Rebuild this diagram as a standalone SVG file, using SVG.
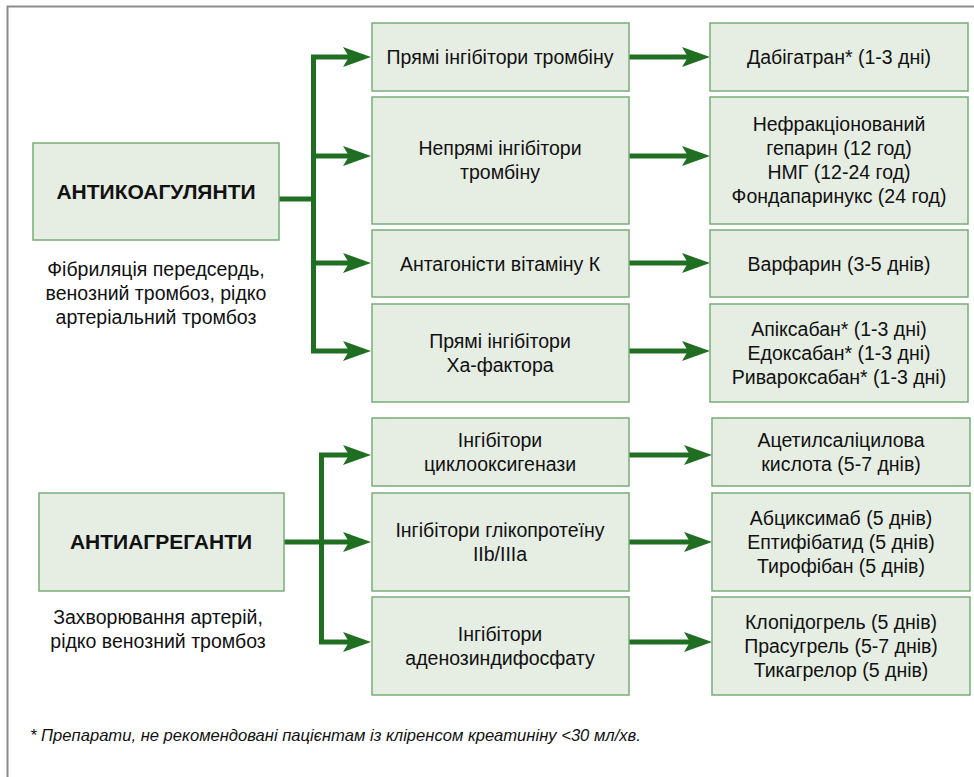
<svg xmlns="http://www.w3.org/2000/svg" width="974" height="777" viewBox="0 0 974 777">
  <defs>
    <style>
      .frame { fill: none; stroke: #8c8c8c; stroke-width: 2; }
      .box rect { fill: #e6ede3; stroke: #78ad78; stroke-width: 1.5; }
      .box text, .note { font-family: "Liberation Sans", "DejaVu Sans", sans-serif; font-size: 19.5px; fill: #111; text-anchor: middle; }
      .box text.head { font-weight: bold; font-size: 21px; }
      .note { font-size: 19.5px; }
      .foot { font-family: "Liberation Sans", "DejaVu Sans", sans-serif; font-size: 16.6px; font-style: italic; fill: #111; }
      .conn path { fill: none; stroke: #1f6e22; stroke-width: 5; }
      .conn path.arrow { marker-end: url(#head); }
    </style>
    <marker id="head" markerUnits="userSpaceOnUse" markerWidth="28" markerHeight="20" refX="6" refY="10" orient="auto">
      <path d="M0,0 L28,10 L0,20 L6,10 Z" fill="#1f6e22"/>
    </marker>
  </defs>

  <rect width="974" height="777" fill="#ffffff"/>
  <rect class="frame" x="7.5" y="6.5" width="1000" height="800"/>

  <!-- connectors -->
  <g class="conn" id="connectors">
    <!-- anticoagulants fan-out -->
    <path d="M279,199 H313.5"/>
    <path d="M313.5,57 V351"/>
    <path class="arrow" d="M311,57 H349"/>
    <path class="arrow" d="M313.5,156 H349"/>
    <path class="arrow" d="M313.5,263 H349"/>
    <path class="arrow" d="M311,351 H349"/>
    <!-- anticoagulant groups to drugs -->
    <path class="arrow" d="M629,57 H688"/>
    <path class="arrow" d="M629,156 H688"/>
    <path class="arrow" d="M629,263 H688"/>
    <path class="arrow" d="M629,351 H688"/>
    <!-- antiplatelets fan-out -->
    <path d="M284,542 H321.5"/>
    <path d="M321.5,455 V642"/>
    <path class="arrow" d="M319,455 H349"/>
    <path class="arrow" d="M321.5,542 H349"/>
    <path class="arrow" d="M319,642 H349"/>
    <!-- antiplatelet groups to drugs -->
    <path class="arrow" d="M629,455 H690"/>
    <path class="arrow" d="M629,542 H690"/>
    <path class="arrow" d="M629,642 H690"/>
  </g>

  <!-- main classes -->
  <g class="box" id="anticoagulants">
    <rect x="33" y="143" width="246" height="97"/>
    <text class="head" x="156" y="199">АНТИКОАГУЛЯНТИ</text>
  </g>
  <text class="note" x="156" y="276">Фібриляція передсердь,</text>
  <text class="note" x="156" y="300">венозний тромбоз, рідко</text>
  <text class="note" x="156" y="324">артеріальний тромбоз</text>

  <g class="box" id="antiplatelets">
    <rect x="39" y="493" width="245" height="98"/>
    <text class="head" x="161" y="549">АНТИАГРЕГАНТИ</text>
  </g>
  <text class="note" x="158" y="624">Захворювання артерій,</text>
  <text class="note" x="158" y="648">рідко венозний тромбоз</text>

  <!-- anticoagulant groups -->
  <g class="box" id="direct-thrombin">
    <rect x="372" y="23" width="257" height="68"/>
    <text x="500" y="64">Прямі інгібітори тромбіну</text>
  </g>
  <g class="box" id="indirect-thrombin">
    <rect x="372" y="97" width="257" height="127"/>
    <text x="500" y="155">Непрямі інгібітори</text>
    <text x="500" y="179">тромбіну</text>
  </g>
  <g class="box" id="vitamin-k">
    <rect x="372" y="230" width="257" height="67"/>
    <text x="500" y="271">Антагоністи вітаміну К</text>
  </g>
  <g class="box" id="xa-factor">
    <rect x="372" y="304" width="257" height="98"/>
    <text x="500" y="348">Прямі інгібітори</text>
    <text x="500" y="372">Ха-фактора</text>
  </g>

  <!-- anticoagulant drugs -->
  <g class="box" id="dabigatran">
    <rect x="710" y="23" width="258" height="68"/>
    <text x="839" y="64">Дабігатран* (1-3 дні)</text>
  </g>
  <g class="box" id="heparins">
    <rect x="710" y="97" width="258" height="127"/>
    <text x="839" y="131">Нефракціонований</text>
    <text x="839" y="155">гепарин (12 год)</text>
    <text x="839" y="179">НМГ (12-24 год)</text>
    <text x="839" y="203">Фондапаринукс (24 год)</text>
  </g>
  <g class="box" id="warfarin">
    <rect x="710" y="230" width="258" height="67"/>
    <text x="839" y="271">Варфарин (3-5 днів)</text>
  </g>
  <g class="box" id="xabans">
    <rect x="710" y="304" width="258" height="98"/>
    <text x="839" y="336">Апіксабан* (1-3 дні)</text>
    <text x="839" y="360">Едоксабан* (1-3 дні)</text>
    <text x="839" y="384">Ривароксабан* (1-3 дні)</text>
  </g>

  <!-- antiplatelet groups -->
  <g class="box" id="cox">
    <rect x="372" y="418" width="257" height="68"/>
    <text x="500" y="447">Інгібітори</text>
    <text x="500" y="471">циклооксигенази</text>
  </g>
  <g class="box" id="gp">
    <rect x="372" y="493" width="257" height="98"/>
    <text x="500" y="537">Інгібітори глікопротеїну</text>
    <text x="500" y="561">IIb/IIIa</text>
  </g>
  <g class="box" id="adp">
    <rect x="372" y="597" width="257" height="98"/>
    <text x="500" y="641">Інгібітори</text>
    <text x="500" y="665">аденозиндифосфату</text>
  </g>

  <!-- antiplatelet drugs -->
  <g class="box" id="aspirin">
    <rect x="712" y="418" width="258" height="68"/>
    <text x="841" y="447">Ацетилсаліцилова</text>
    <text x="841" y="471">кислота (5-7 днів)</text>
  </g>
  <g class="box" id="gp-drugs">
    <rect x="712" y="493" width="258" height="98"/>
    <text x="841" y="525">Абциксимаб (5 днів)</text>
    <text x="841" y="549">Ептифібатид (5 днів)</text>
    <text x="841" y="573">Тирофібан (5 днів)</text>
  </g>
  <g class="box" id="adp-drugs">
    <rect x="712" y="597" width="258" height="98"/>
    <text x="841" y="629">Клопідогрель (5 днів)</text>
    <text x="841" y="653">Прасугрель (5-7 днів)</text>
    <text x="841" y="677">Тикагрелор (5 днів)</text>
  </g>

  <text class="foot" x="30" y="741">* Препарати, не рекомендовані пацієнтам із кліренсом креатиніну &lt;30 мл/хв.</text>
</svg>
